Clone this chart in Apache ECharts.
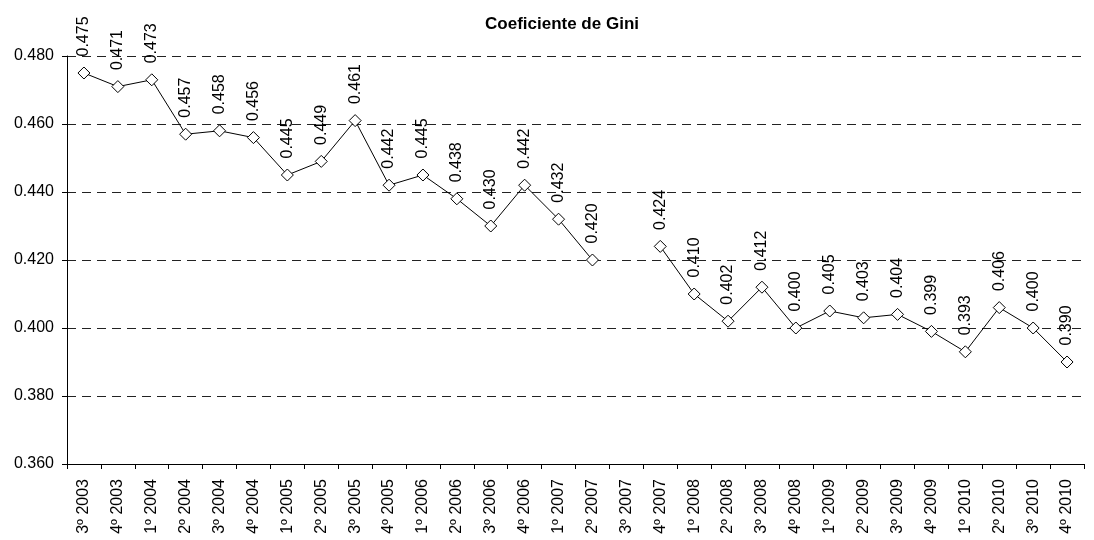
<!DOCTYPE html>
<html><head><meta charset="utf-8">
<script src="https://cdn.jsdelivr.net/npm/echarts@6/dist/echarts.min.js"></script>
<style>html,body{margin:0;padding:0;background:#fff}#c{width:1094px;height:540px}</style>
</head><body><div id="c"></div>
<script>
const categories = ['3º 2003','4º 2003','1º 2004','2º 2004','3º 2004','4º 2004','1º 2005','2º 2005','3º 2005','4º 2005','1º 2006','2º 2006','3º 2006','4º 2006','1º 2007','2º 2007','3º 2007','4º 2007','1º 2008','2º 2008','3º 2008','4º 2008','1º 2009','2º 2009','3º 2009','4º 2009','1º 2010','2º 2010','3º 2010','4º 2010'];
const giniValues = [0.475,0.471,0.473,0.457,0.458,0.456,0.445,0.449,0.461,0.442,0.445,0.438,0.430,0.442,0.432,0.420,null,0.424,0.410,0.402,0.412,0.400,0.405,0.403,0.404,0.399,0.393,0.406,0.400,0.390];
const titleText = 'Coeficiente de Gini';
const chart = echarts.init(document.getElementById('c'));
const font = 'Liberation Sans, Arial, sans-serif';
chart.setOption({
  animation: false,
  title: {text: titleText, left: 557, top: 11, textAlign: 'center',
    textStyle: {fontFamily: font, fontSize: 17, fontWeight: 'bold', color: '#000'}},
  grid: {left: 67, right: 10, top: 56, bottom: 76},
  xAxis: {type: 'category', data: categories, boundaryGap: true,
    axisLine: {lineStyle: {color: '#000', width: 1}},
    axisTick: {show: true, alignWithLabel: false, length: 5, lineStyle: {color: '#000'}},
    axisLabel: {rotate: 90, interval: 0, fontFamily: font, fontSize: 16, color: '#000', margin: 15}},
  yAxis: {type: 'value', min: 0.36, max: 0.48, interval: 0.02,
    axisLine: {show: true, lineStyle: {color: '#000', width: 1}},
    axisTick: {show: true, length: 5, lineStyle: {color: '#000'}},
    axisLabel: {fontFamily: font, fontSize: 16, color: '#000', margin: 13, formatter: v => v.toFixed(3)},
    splitLine: {show: true, lineStyle: {color: '#222', type: [9, 6], width: 1}}},
  series: [{type: 'line', data: giniValues, connectNulls: false,
    symbol: 'diamond', symbolSize: 12,
    itemStyle: {color: '#fff', borderColor: '#000', borderWidth: 1},
    lineStyle: {color: '#000', width: 1},
    label: {show: true, position: 'top', rotate: 90, distance: 10, align: 'left', verticalAlign: 'middle',
      fontFamily: font, fontSize: 16, color: '#000', formatter: p => p.value == null ? '' : p.value.toFixed(3)}}]
});
</script></body></html>
